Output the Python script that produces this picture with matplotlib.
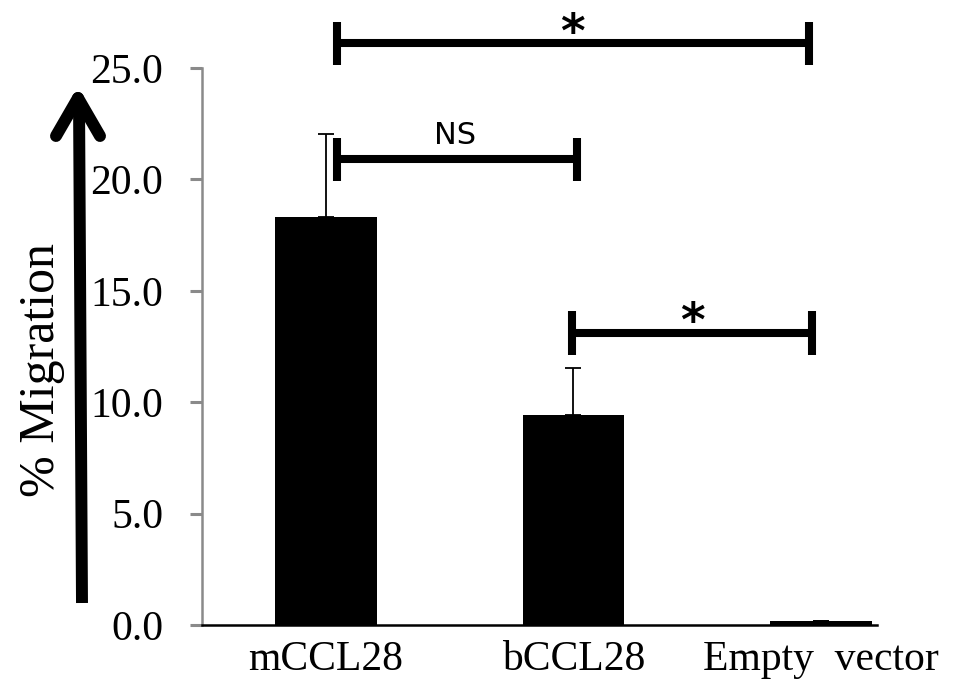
import numpy as np
import matplotlib.pyplot as plt
from matplotlib.lines import Line2D

# data
groups = ['mCCL28', 'bCCL28', 'Empty  vector']
migration = [18.33, 9.43, 0.2]
err_up = [3.7, 2.1, 0.0]
yticks = [0, 5, 10, 15, 20, 25]

# significance brackets: start, end, height, label
br_x1 = [0.045, 0.995, 0.045]
br_x2 = [1.015, 1.965, 1.95]
br_y = [20.9, 13.1, 26.1]
br_txt = ['NS', '*', '*']

fig = plt.figure(figsize=(9.69, 6.88), dpi=100)
ax = fig.add_axes([0.2085, 0.0916, 0.6965, 0.8096])

x = np.arange(len(groups))
ax.bar(x, migration, width=0.41, color='black', zorder=2)
ax.errorbar(x, migration, yerr=[np.zeros(len(x)), err_up], fmt='none',
            ecolor='black', elinewidth=1.3, capsize=5.5, capthick=1.3, zorder=1)

ax.set_xlim(-0.5, 2.226)
ax.set_ylim(0, 25)
ax.set_yticks(yticks)
ax.set_yticklabels(['%.1f' % v for v in yticks], family='Liberation Serif', fontsize=30)
ax.set_xticks(x)
ax.set_xticklabels(groups, family='Liberation Serif', fontsize=30)
ax.tick_params(axis='y', direction='out', length=9, width=2.2, color='#8a8a8a', pad=19)
ax.tick_params(axis='x', length=0, pad=11)

for s in ['top', 'right']:
    ax.spines[s].set_visible(False)
ax.spines['left'].set_color('#8a8a8a')
ax.spines['left'].set_linewidth(1.8)
ax.spines['bottom'].set_color('black')
ax.spines['bottom'].set_linewidth(1.8)

# brackets
cap = 0.97
for x1, x2, y, t in zip(br_x1, br_x2, br_y, br_txt):
    ax.plot([x1, x2], [y, y], color='black', lw=5.8, solid_capstyle='butt', clip_on=False)
    ax.plot([x1, x1], [y - cap, y + cap], color='black', lw=5.8, solid_capstyle='butt', clip_on=False)
    ax.plot([x2, x2], [y - cap, y + cap], color='black', lw=5.8, solid_capstyle='butt', clip_on=False)
    xm = (x1 + x2) / 2
    if t == 'NS':
        ax.text(xm - 0.01, y + 0.4, t, ha='center', va='bottom', fontsize=22,
                family='DejaVu Sans', clip_on=False)
    else:
        ax.text(xm, y - 0.6, t, ha='center', va='bottom', fontsize=34,
                family='DejaVu Sans', fontweight='bold', clip_on=False)

# big arrow on the left
W, H = 969.0, 688.0
def fx(px):
    return px / W
def fy(py):
    return 1 - py / H

arrow_kw = dict(color='black', lw=8.6, transform=fig.transFigure)
fig.add_artist(Line2D([fx(82), fx(79)], [fy(603), fy(98)], solid_capstyle='butt', **arrow_kw))
fig.add_artist(Line2D([fx(56), fx(78)], [fy(136), fy(98)], solid_capstyle='round', **arrow_kw))
fig.add_artist(Line2D([fx(100), fx(78)], [fy(136), fy(98)], solid_capstyle='round', **arrow_kw))

fig.text(fx(42), fy(370), '% Migration', rotation=90, ha='center', va='center',
         family='Liberation Serif', fontsize=36)

fig.savefig('out.png', dpi=100)
